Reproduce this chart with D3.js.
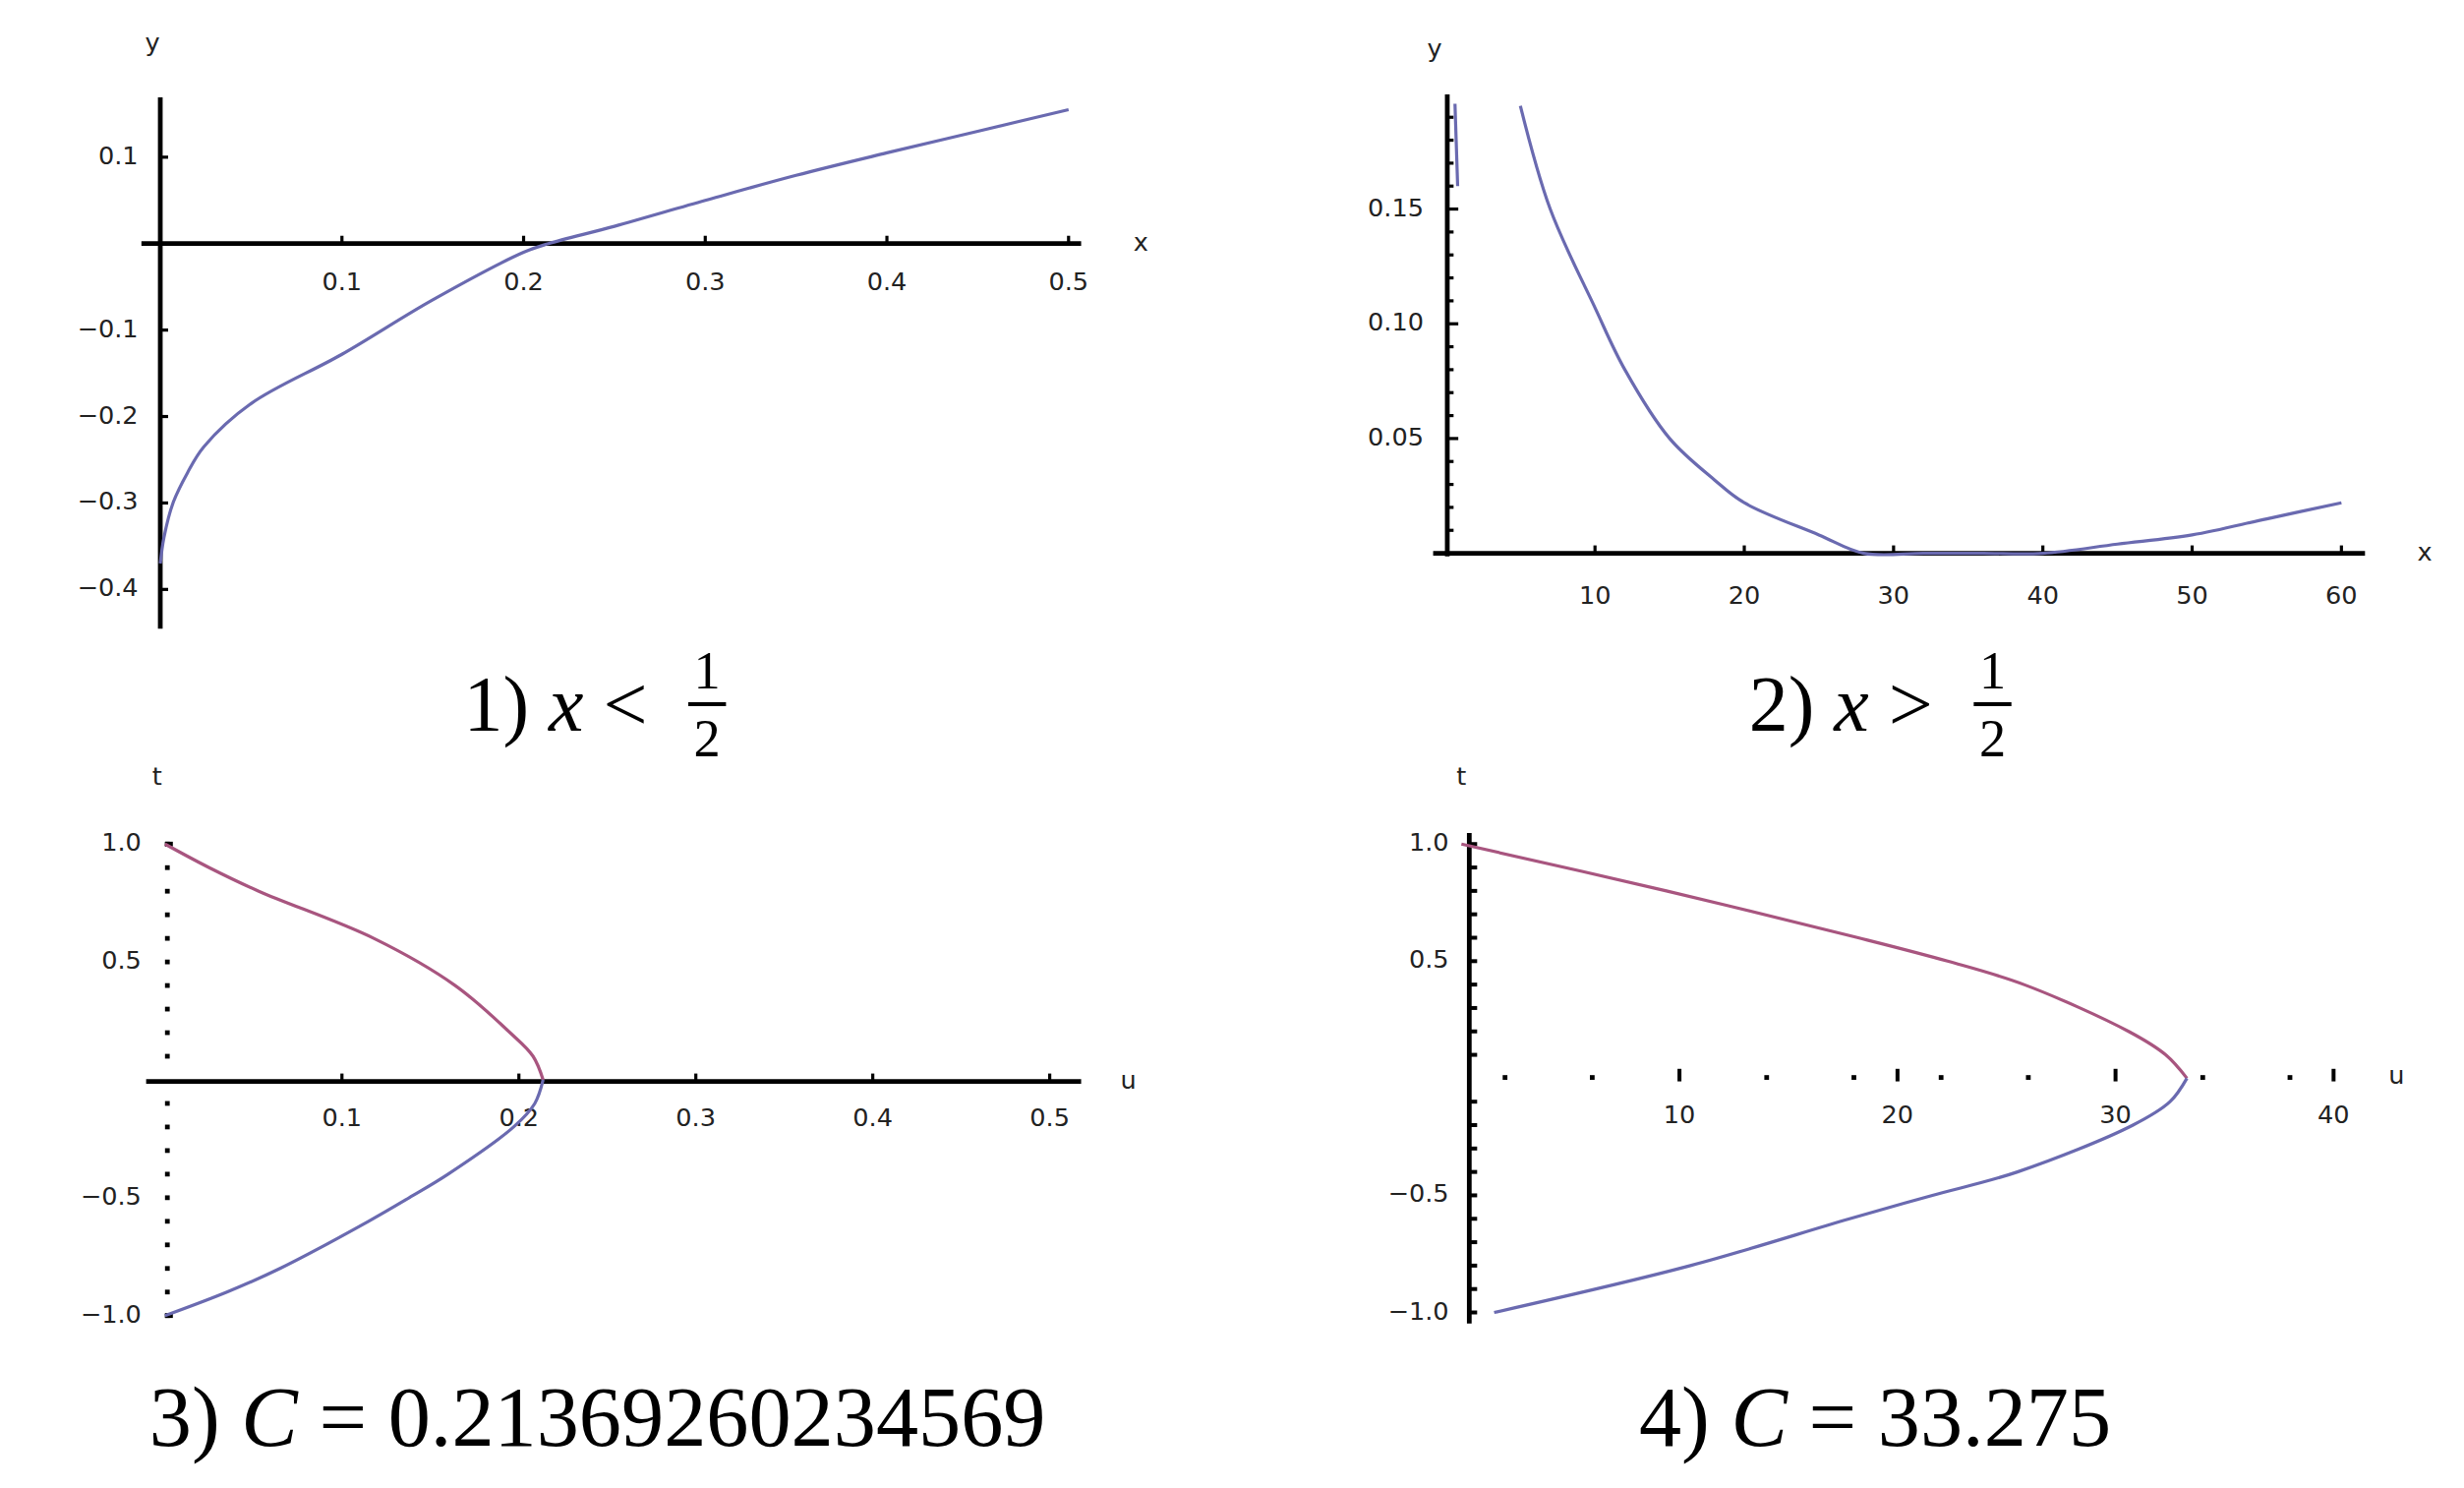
<!DOCTYPE html>
<html><head><meta charset="utf-8">
<script src="https://cdn.jsdelivr.net/npm/d3@7"></script>
<style>body{margin:0;background:#fff}</style></head>
<body><svg id="c" width="2506" height="1513"></svg>
<script>
// Panel 1: x < 1/2
const p1x=[0,0.002,0.007,0.015,0.024,0.05,0.1,0.15,0.2,0.2137,0.25,0.3,0.35,0.4,0.45,0.5];
const p1y=[-0.37,-0.34,-0.3,-0.265,-0.235,-0.185,-0.128,-0.065,-0.01,0,0.02,0.05,0.079,0.105,0.13,0.155];
const p1xt=[0.1,0.2,0.3,0.4,0.5], p1yt=[0.1,-0.1,-0.2,-0.3,-0.4];
// Panel 2: x > 1/2
const p2aX=[0.6,0.7,0.8], p2aY=[0.2,0.18,0.16];
const p2x=[5,7,10,12,15,18,20,25,28,32,36,40,45,50,55,60];
const p2y=[0.195,0.15,0.107,0.08,0.05,0.032,0.022,0.008,0,0,0,0,0.004,0.008,0.015,0.022];
const p2xt=[10,20,30,40,50,60], p2yt=[0.05,0.10,0.15];
// Panel 3: C = 0.2137
const p3tUp=[1,0.9,0.8,0.6,0.4,0.2,0.1,0];
const p3uUp=[0,0.025,0.053,0.118,0.164,0.195,0.208,0.2137];
const p3tDn=[0,-0.1,-0.2,-0.4,-0.5,-0.6,-0.8,-0.9,-1];
const p3uDn=[0.2137,0.209,0.197,0.16,0.138,0.115,0.065,0.035,0];
const p3xt=[0.1,0.2,0.3,0.4,0.5], p3yt=[1.0,0.5,-0.5,-1.0];
// Panel 4: C = 33.275
const p4tUp=[1,0.8,0.6,0.5,0.4,0.2,0.1,0];
const p4uUp=[0,9.4,18.2,22.3,25.8,30.6,32.3,33.275];
const p4tDn=[0,-0.1,-0.2,-0.4,-0.5,-0.6,-0.8,-1];
const p4uDn=[33.275,32.5,30.8,25.5,21.6,17.8,10.5,1.5];
const p4xt=[10,20,30,40], p4yt=[1.0,0.5,-0.5,-1.0];

const K=2506/1568;
const svg=d3.select('#c').append('g').attr('transform',`scale(${K})`);
const BLUE='#6a6ab0', RED='#a8557f';
const tf='"DejaVu Sans",sans-serif';
function lbl(x,y,t,anchor){svg.append('text').attr('x',x).attr('y',y).attr('text-anchor',anchor||'middle').attr('dominant-baseline','middle').attr('font-family',tf).attr('font-size',16).attr('fill','#222').text(t);}
function fmt(v,d){return (v<0?'\u2212':'')+Math.abs(v).toFixed(d);}
const cr=d3.curveCatmullRom.alpha(0.5);
function line(xs,ys,X,Y,col,g){(g||svg).append('path').attr('d',d3.line().x(d=>X(d[0])).y(d=>Y(d[1])).curve(cr)(xs.map((v,i)=>[v,ys[i]]))).attr('fill','none').attr('stroke',col).attr('stroke-width',2);}
function lineT(us,ts,X,Y,col){line(us,ts,X,Y,col);}
function ax(x1,y1,x2,y2,w){svg.append('line').attr('x1',x1).attr('y1',y1).attr('x2',x2).attr('y2',y2).attr('stroke','#000').attr('stroke-width',w||3);}

// ---- Panel 1
{const X=d3.scaleLinear([0,0.5],[102,680]), Y=d3.scaleLinear([0,0.1],[155,100]);
 ax(102,62,102,400); ax(90,155,688,155);
 p1xt.forEach(v=>{ax(X(v),150,X(v),155,2);lbl(X(v),180,v.toFixed(1));});
 p1yt.forEach(v=>{ax(102,Y(v),107,Y(v),2);lbl(88,Y(v),fmt(v,1),'end');});
 lbl(97,28,'y');lbl(726,155,'x');
 line(p1x,p1y,X,Y,BLUE);}
// ---- Panel 2
{const X=d3.scaleLinear([0,60],[920,1490]), Y=d3.scaleLinear([0,0.05],[352,279]);
 svg.append('clipPath').attr('id','cp2').append('rect').attr('x',915).attr('y',66).attr('width',600).attr('height',300);
 ax(921,60,921,354); ax(912,352,1505,352);
 p2xt.forEach(v=>{ax(X(v),347,X(v),352,2);lbl(X(v),380,String(v));});
 d3.range(1,20).forEach(i=>{ax(921,Y(i/100),i%5===0?928:925,Y(i/100),2);});
 p2yt.forEach(v=>lbl(906,Y(v),v.toFixed(2),'end'));
 lbl(913,32,'y');lbl(1543,352,'x');
 const g=svg.append('g').attr('clip-path','url(#cp2)');
 line(p2aX,p2aY,X,Y,BLUE,g); line(p2x,p2y,X,Y,BLUE,g);}
// ---- Panel 3
{const X=d3.scaleLinear([0,0.5],[105,668]), Y=d3.scaleLinear([0,1],[687,537]);
 ax(93,688,688,688);
 d3.range(-10,11).forEach(i=>{if(i!==0) svg.append('rect').attr('x',105).attr('y',Y(i/10)-1.5).attr('width',3).attr('height',3).attr('fill','#000');});
 ax(105,Y(1),110,Y(1),3);ax(105,Y(-1),110,Y(-1),3);
 p3xt.forEach(v=>{ax(X(v),683,X(v),688,2);lbl(X(v),712,v.toFixed(1));});
 p3yt.forEach(v=>lbl(90,Y(v),fmt(v,1),'end'));
 lbl(100,495,'t');lbl(718,688,'u');
 lineT(p3uUp,p3tUp,X,Y,RED); lineT(p3uDn,p3tDn,X,Y,BLUE);}
// ---- Panel 4
{const X=d3.scaleLinear([0,40],[930,1485]), Y=d3.scaleLinear([0,1],[686,537]);
 ax(935,530,935,842);
 d3.range(-10,11).forEach(i=>{if(i!==0) ax(935,Y(i/10),940,Y(i/10),2.5);});
 d3.range(2,42,4).forEach(v=>{if(v!==10&&v!==30) svg.append('rect').attr('x',X(v)-1.5).attr('y',684).attr('width',3).attr('height',3).attr('fill','#000');});
 p4xt.forEach(v=>{ax(X(v),680,X(v),688,2.5);lbl(X(v),710,String(v));});
 p4yt.forEach(v=>lbl(922,Y(v),fmt(v,1),'end'));
 lbl(930,495,'t');lbl(1525,685,'u');
 lineT(p4uUp,p4tUp,X,Y,RED); lineT(p4uDn,p4tDn,X,Y,BLUE);}

// ---- Captions
const sf='"Liberation Serif","DejaVu Serif",serif';
function cap(x,y,parts,fs){const t=svg.append('text').attr('x',x).attr('y',y).attr('font-family',sf).attr('font-size',fs||50);
 parts.forEach(p=>t.append('tspan').attr('font-style',p[1]?'italic':'normal').text(p[0]));return t;}
function frac(x){svg.append('text').attr('x',x).attr('y',438).attr('font-family',sf).attr('font-size',34).attr('text-anchor','middle').text('1');
 svg.append('line').attr('x1',x-12).attr('x2',x+12).attr('y1',448).attr('y2',448).attr('stroke','#000').attr('stroke-width',2.5);
 svg.append('text').attr('x',x).attr('y',481).attr('font-family',sf).attr('font-size',34).attr('text-anchor','middle').text('2');}
cap(295,465,[['1) ',0],['x',1],[' <',0]]); frac(450);
cap(1113,465,[['2) ',0],['x',1],[' >',0]]); frac(1268);
cap(95,920,[['3) ',0],['C',1],[' = 0.21369260234569',0]],54);
cap(1043,920,[['4) ',0],['C',1],[' = 33.275',0]],54);
</script></body></html>
